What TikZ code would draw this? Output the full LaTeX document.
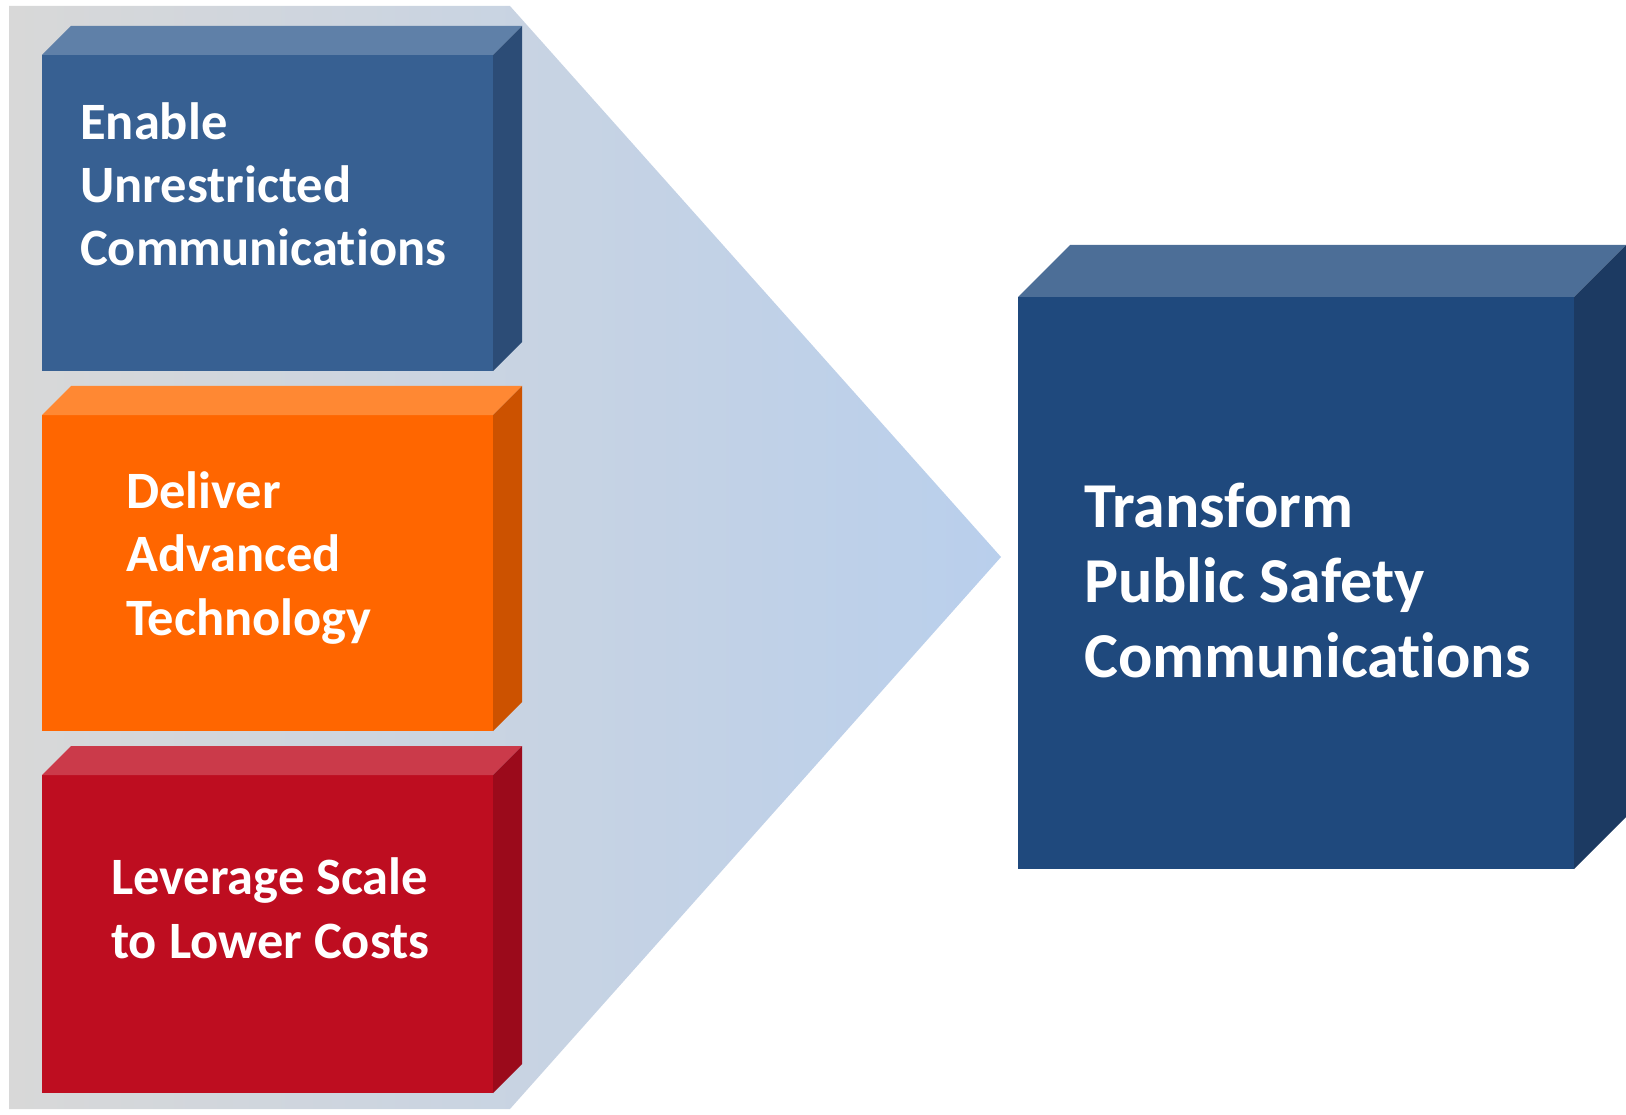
\documentclass[tikz,border=0pt]{standalone}
\usepackage{fontspec}
\setmainfont{Carlito}[Ligatures={NoCommon}]
\definecolor{bgL}{HTML}{D8D8D8}
\definecolor{bgR}{HTML}{B9CFEC}
\definecolor{bFront}{HTML}{376092}
\definecolor{bTop}{HTML}{5F80A8}
\definecolor{bSide}{HTML}{2C4C76}
\definecolor{oFront}{HTML}{FF6600}
\definecolor{oTop}{HTML}{FF8833}
\definecolor{oSide}{HTML}{CC5200}
\definecolor{rFront}{HTML}{BE0D20}
\definecolor{rTop}{HTML}{CB3A4A}
\definecolor{rSide}{HTML}{9B0A1B}
\definecolor{cFront}{HTML}{1F497D}
\definecolor{cTop}{HTML}{4C6E97}
\definecolor{cSide}{HTML}{1C3A62}
% #1,#2 = front top-left (x,y); #3,#4 = front bottom-right; #5 = depth; #6 front, #7 top, #8 side
\newcommand\slabbox[8]{%
  \fill[#6] (#1,#2) rectangle (#3,#4);
  \fill[#7] (#1,#2) -- ({#1+#5},{#2-#5}) -- ({#3+#5},{#2-#5}) -- (#3,#2) -- cycle;
  \fill[#8] (#3,#2) -- ({#3+#5},{#2-#5}) -- ({#3+#5},{#4-#5}) -- (#3,#4) -- cycle;
}
\tikzset{
  smalltxt/.style={anchor=base west, inner sep=0pt, text=white, align=left,
    font=\fontsize{52.5}{63.3}\selectfont\bfseries},
  bigtxt/.style={anchor=base west, inner sep=0pt, text=white, align=left,
    font=\fontsize{64}{75}\selectfont\bfseries},
}
\begin{document}
\begin{tikzpicture}[x=1pt,y=-1pt]
\useasboundingbox (0,0) rectangle (1626,1115);
\shade[left color=bgL, right color=bgR] (9,6) -- (510,6) -- (1001,557) -- (510,1109) -- (9,1109) -- cycle;
\slabbox{42}{55}{493}{371}{29}{bFront}{bTop}{bSide}
\slabbox{42}{415}{493}{731}{29}{oFront}{oTop}{oSide}
\slabbox{42}{775}{493}{1093}{29}{rFront}{rTop}{rSide}
\slabbox{1018}{297}{1574}{869}{52}{cFront}{cTop}{cSide}
\node[smalltxt] (t1) at (80,266) {Enable\\Unrestricted\\Communications};
\node[smalltxt] (t2) at (126,635) {Deliver\\Advanced\\Technology};
\node[smalltxt] (t3) at (111,958) {Leverage Scale\\to Lower Costs};
\node[bigtxt] (t4) at (1084,677) {Transform\\Public Safety\\Communications};
\end{tikzpicture}
\end{document}
